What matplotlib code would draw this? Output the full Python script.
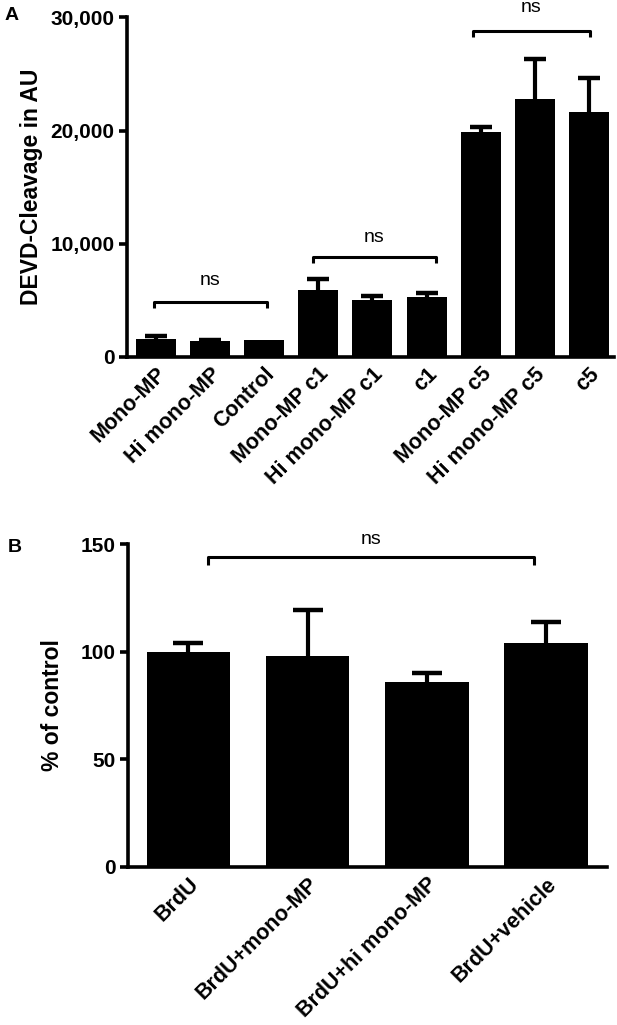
import matplotlib
matplotlib.use("Agg")
import matplotlib.pyplot as plt

# panel A data
cats_a = ["Mono-MP", "Hi mono-MP", "Control", "Mono-MP c1", "Hi mono-MP c1", "c1",
          "Mono-MP c5", "Hi mono-MP c5", "c5"]
vals_a = [1600, 1400, 1500, 5900, 5000, 5300, 19850, 22800, 21600]
errs_a = [200, 100, 0, 950, 400, 350, 450, 3500, 3050]
# (from, to, bracket height, "ns" height)
brackets_a = [(-0.04, 2.05, 4835, 6770), (2.9, 5.17, 8840, 10500), (5.86, 8.02, 28800, 30880)]

# panel B data
cats_b = ["BrdU", "BrdU+mono-MP", "BrdU+hi mono-MP", "BrdU+vehicle"]
vals_b = [100, 97.9, 85.7, 103.8]
errs_b = [3.8, 21.4, 4.5, 9.9]
bracket_b = (0.16, 2.9, 144, 151.9)

plt.rcParams['font.family'] = ['Liberation Sans', 'DejaVu Sans']

fig = plt.figure(figsize=(6.17, 10.25), dpi=100)
axA = fig.add_axes([0.2058, 0.652, 0.789, 0.331])
axB = fig.add_axes([0.2075, 0.1544, 0.776, 0.3148])


def style(ax):
    for s in ("top", "right"):
        ax.spines[s].set_visible(False)
    for s in ("left", "bottom"):
        ax.spines[s].set_linewidth(2.6)
    ax.tick_params(axis="y", width=2.6, length=6, labelsize=15, pad=3)
    ax.tick_params(axis="x", length=0, labelsize=15.5, pad=5)
    for lab in ax.get_yticklabels() + ax.get_xticklabels():
        lab.set_fontweight("bold")


def up_err(ax, x, v, e, cap):
    # upper-only error bar: hide the lower cap that sits on the bar top
    _, caps, _ = ax.errorbar(x, v, yerr=[[0], [e]], color="black", elinewidth=3,
                             capsize=cap, capthick=3.2)
    caps[0].set_visible(False)


def bracket(ax, x0, x1, y, tip, ytxt):
    ax.plot([x0, x0, x1, x1], [y - tip, y, y, y - tip], color="black", lw=2.2, clip_on=False,
            solid_capstyle="butt")
    ax.text((x0 + x1) / 2, ytxt, "ns", ha="center", va="center", fontsize=14, clip_on=False)


# ---- A ----
xa = range(len(cats_a))
axA.bar(xa, vals_a, width=0.74, color="black")
for x, v, e in zip(xa, vals_a, errs_a):
    if e > 0:
        up_err(axA, x, v, e, 8)
axA.set_xlim(-0.536, 8.46)
axA.set_ylim(0, 30000)
axA.set_yticks([0, 10000, 20000, 30000])
axA.set_yticklabels(["0", "10,000", "20,000", "30,000"])
axA.set_xticks(list(xa))
axA.set_xticklabels(cats_a, rotation=45, ha="right", rotation_mode="anchor")
axA.set_ylabel("DEVD-Cleavage in AU", fontsize=16.5, fontweight="bold", labelpad=5)
style(axA)
for x0, x1, y, yt in brackets_a:
    bracket(axA, x0, x1, y, 550, yt)
fig.text(0.008, 0.985, "A", fontsize=14, fontweight="bold", va="center")

# ---- B ----
xb = range(len(cats_b))
axB.bar(xb, vals_b, width=0.70, color="black")
for x, v, e in zip(xb, vals_b, errs_b):
    up_err(axB, x, v, e, 11)
axB.set_xlim(-0.507, 3.51)
axB.set_ylim(0, 150)
axB.set_yticks([0, 50, 100, 150])
axB.set_xticks(list(xb))
axB.set_xticklabels(cats_b, rotation=45, ha="right", rotation_mode="anchor")
axB.set_ylabel("% of control", fontsize=16.5, fontweight="bold", labelpad=12)
style(axB)
bracket(axB, bracket_b[0], bracket_b[1], bracket_b[2], 3.8, bracket_b[3])
fig.text(0.012, 0.466, "B", fontsize=14, fontweight="bold", va="center")

fig.savefig("out.png", dpi=100)
